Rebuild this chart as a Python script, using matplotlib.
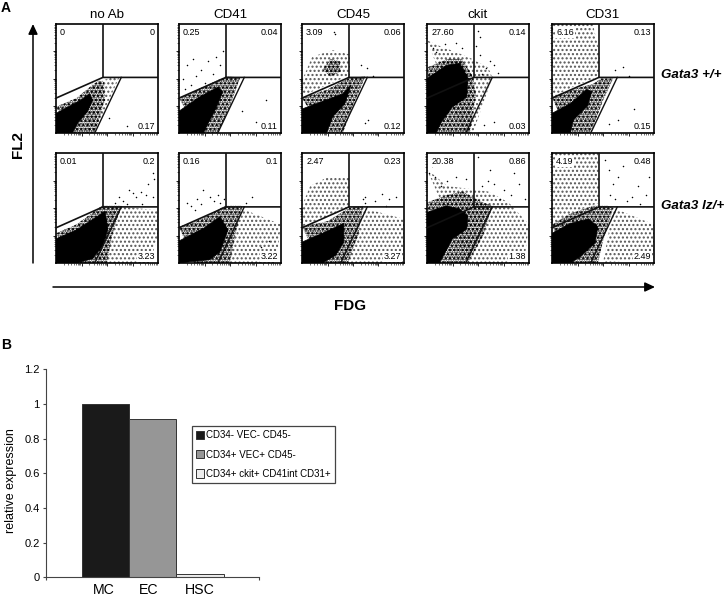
"""
Gata3 flow panels (A) and relative expression bars (B).
Dot clouds are outlined by density regions read off the picture, plus hand-read dots.
"""
import matplotlib
matplotlib.use("Agg")
import matplotlib.pyplot as plt
import numpy as np
from matplotlib.patches import Polygon

plt.rcParams["font.family"] = ["Liberation Sans", "DejaVu Sans"]

W, H = 726, 598

COLUMNS = ["no Ab", "CD41", "CD45", "ckit", "CD31"]
ROWS = ["Gata3 +/+", "Gata3 lz/+"]

# gate percentages: upper left, upper right, lower right
GATES = [
    [("0", "0", "0.17"), ("0.25", "0.04", "0.11"), ("3.09", "0.06", "0.12"),
     ("27.60", "0.14", "0.03"), ("6.16", "0.13", "0.15")],
    [("0.01", "0.2", "3.23"), ("0.16", "0.1", "3.22"), ("2.47", "0.23", "3.27"),
     ("20.38", "0.86", "1.38"), ("4.19", "0.48", "2.49")],
]

# dot cloud outlines, % of panel width / height
CORE = [
    [[(0, 18), (12, 24), (24, 30), (33, 36), (36, 30), (31, 20), (22, 10), (16, 0), (0, 0)],
     [(0, 20), (20, 33), (38, 42), (43, 38), (36, 22), (28, 8), (24, 0), (0, 0)],
     [(0, 22), (20, 29), (40, 36), (48, 44), (42, 27), (30, 15), (24, 0), (0, 0)],
     [(0, 50), (19, 62), (32, 64), (40, 51), (39, 33), (25, 24), (14, 10), (9, 0), (0, 0)],
     [(0, 18), (18, 27), (34, 40), (39, 38), (35, 25), (21, 12), (18, 0), (0, 0)]],
    [[(0, 22), (20, 30), (40, 42), (48, 47), (51, 31), (46, 16), (36, 4), (20, 0), (0, 0)],
     [(0, 20), (25, 32), (40, 42), (48, 30), (40, 10), (30, 3), (0, 0)],
     [(0, 19), (20, 27), (41, 36), (41, 19), (33, 7), (20, 0), (0, 0)],
     [(0, 46), (19, 52), (32, 49), (40, 43), (39, 31), (25, 22), (12, 0), (0, 0)],
     [(0, 27), (18, 36), (36, 40), (45, 33), (42, 18), (28, 6), (18, 0), (0, 0)]],
]
DENSE = [
    [[[(0, 24), (20, 32), (33, 42), (42, 48), (47, 47), (48, 30), (38, 0), (14, 0)]],
     [[(0, 32), (30, 45), (46, 52), (60, 51), (50, 25), (38, 0), (20, 0)]],
     [[(0, 32), (25, 40), (45, 50), (62, 52), (50, 25), (40, 0), (22, 0)],
      [(20, 58), (28, 68), (37, 66), (38, 56), (28, 52)]],
     [[(0, 60), (20, 68), (34, 68), (45, 52), (48, 35), (42, 0), (8, 0)]],
     [[(0, 33), (20, 40), (40, 45), (48, 50), (60, 50), (50, 30), (38, 0), (15, 0)]]],
    [[[(0, 27), (20, 35), (45, 52), (64, 52), (55, 25), (50, 0), (15, 0)]],
     [[(0, 33), (22, 40), (45, 52), (62, 52), (55, 25), (50, 0), (15, 0)]],
     [[(0, 33), (25, 38), (46, 50), (60, 52), (55, 25), (45, 0), (18, 0)]],
     [[(0, 55), (20, 62), (35, 65), (55, 55), (64, 52), (55, 25), (40, 0), (10, 0)]],
     [[(0, 35), (18, 45), (40, 52), (55, 52), (60, 50), (50, 20), (45, 0), (12, 0)]]],
]
SPARSE = [
    [[[(35, 45), (55, 51), (62, 51), (48, 22), (38, 0), (30, 0)]],
     [],
     [[(0, 48), (10, 70), (30, 76), (47, 72), (47, 53), (20, 42), (0, 34)]],
     [[(0, 85), (12, 80), (40, 70), (60, 60), (64, 51), (45, 0), (35, 0)]],
     [[(0, 100), (40, 100), (47, 72), (46, 52), (20, 42), (0, 33)]]],
    [[[(55, 52), (100, 48), (100, 25), (92, 0), (38, 0)]],
     [[(60, 50), (100, 35), (95, 0), (50, 0)]],
     [[(60, 50), (100, 40), (100, 0), (45, 0)],
      [(0, 52), (8, 70), (25, 78), (46, 78), (46, 50), (0, 33)]],
     [[(0, 85), (20, 70), (60, 65), (80, 55), (100, 35), (95, 0), (40, 0)]],
     [[(0, 100), (45, 100), (47, 55), (20, 46), (0, 35)],
      [(60, 50), (100, 35), (100, 5), (50, 0)]]],
]

# single dots read by eye, % of panel
DOTS = [
    [[(70, 6), (52, 14)],
     [(4, 50), (8, 62), (12, 44), (17, 52), (14, 68), (22, 58), (25, 46), (28, 66), (33, 54),
      (36, 70), (40, 62), (43, 75), (30, 38), (6, 40), (20, 40), (62, 20), (75, 10), (85, 30)],
     [(31, 93), (32, 91), (58, 62), (64, 60), (70, 52), (65, 12), (62, 9), (82, 8)],
     [(50, 94), (52, 88), (48, 80), (52, 72), (62, 66), (66, 62), (70, 55), (58, 60), (54, 54),
      (6, 78), (9, 74), (18, 82), (20, 90), (28, 83), (34, 78), (66, 10), (56, 7)],
     [(70, 61), (62, 58), (75, 52), (80, 22), (65, 12), (56, 8), (90, 9)]],
    [[(95, 82), (96, 76), (90, 72), (83, 65), (72, 66), (75, 64), (62, 60), (66, 56), (58, 55),
      (88, 62), (95, 60), (78, 60), (70, 54), (84, 54)],
     [(8, 55), (12, 52), (18, 58), (22, 54), (30, 60), (34, 56), (38, 62), (16, 48),
      (24, 66), (40, 55), (44, 58), (66, 55), (72, 60), (80, 15), (88, 20)],
     [(62, 55), (62, 60), (60, 58), (78, 63), (85, 58), (92, 60), (82, 52), (72, 56)],
     [(2, 82), (5, 88), (8, 78), (14, 70), (20, 75), (28, 78), (38, 76), (50, 96), (62, 85),
      (66, 72), (75, 66), (82, 62), (90, 72), (96, 58), (72, 58), (54, 70), (60, 75), (85, 82)],
     [(52, 94), (56, 85), (60, 72), (65, 78), (70, 88), (78, 60), (84, 70), (92, 62), (88, 90),
      (95, 78), (74, 56), (62, 58), (86, 54), (57, 62)]],
]

# panel B
CATEGORIES = ["MC", "EC", "HSC"]
EXPRESSION = [1.0, 0.913, 0.017]
SUBSETS = ["CD34- VEC- CD45-", "CD34+ VEC+ CD45-", "CD34+ ckit+ CD41int CD31+"]
BAR_COLORS = ["#1a1a1a", "#969696", "#ececec"]
Y_TICKS = [0, 0.2, 0.4, 0.6, 0.8, 1.0, 1.2]
Y_LABELS = ["0", "0.2", "0.4", "0.6", "0.8", "1", "1.2"]

PANEL_X = [56, 179, 302, 427, 552]
PANEL_Y = [24, 153]
PANEL_W = 102
PANEL_H = [109, 110]


def px_axes(fig, x0, y0, w, h):
    return fig.add_axes([x0 / W, 1 - (y0 + h) / H, w / W, h / H])


def stipple(ax, poly, counts, color, z):
    # overlaid dot hatches of unequal pitch read as an uneven dot field
    for n in counts:
        ax.add_patch(Polygon(poly, facecolor="none", edgecolor=color, hatch="." * n,
                             linewidth=0, zorder=z))


fig = plt.figure(figsize=(W / 100, H / 100), dpi=100, facecolor="white")

decades = np.arange(0, 100, 25)
log_minor = np.log10(np.arange(2, 10)) * 25
minor = np.concatenate([d + log_minor for d in decades])

for r, y0 in enumerate(PANEL_Y):
    for c, x0 in enumerate(PANEL_X):
        ax = px_axes(fig, x0, y0, PANEL_W, PANEL_H[r])
        ax.set_xlim(0, 100)
        ax.set_ylim(0, 100)
        for poly in SPARSE[r][c]:
            stipple(ax, poly, [4], "#555555", 1)
        for poly in DENSE[r][c]:
            stipple(ax, poly, [4, 7], "black", 2)
        ax.add_patch(Polygon(CORE[r][c], facecolor="black", edgecolor="black",
                             linewidth=0.5, zorder=3))
        dx, dy = zip(*DOTS[r][c])
        ax.scatter(dx, dy, s=1.2, color="black", linewidths=0, zorder=3)

        ax.plot([46, 46], [100, 51], color="#111", lw=1.2, zorder=4)
        ax.plot([0, 46, 100], [32, 51, 51], color="#111", lw=1.2, zorder=4)
        ax.plot([64, 38], [51, 0], color="#111", lw=1.0, zorder=4)

        box = dict(facecolor="white", edgecolor="none", pad=0.6)
        ul, ur, lr = GATES[r][c]
        ax.text(4, 92, ul, fontsize=6.5, ha="left", va="center", zorder=5, bbox=box)
        ax.text(97, 92, ur, fontsize=6.5, ha="right", va="center", zorder=5, bbox=box)
        ax.text(97, 6, lr, fontsize=6.5, ha="right", va="center", zorder=5, bbox=box)

        ax.set_xticks(decades[1:])
        ax.set_yticks(decades[1:])
        ax.set_xticks(minor, minor=True)
        ax.set_yticks(minor, minor=True)
        ax.tick_params(which="major", length=2.2, width=0.6, labelbottom=False, labelleft=False)
        ax.tick_params(which="minor", length=1.2, width=0.4)
        for spine in ax.spines.values():
            spine.set_linewidth(1.2)

        if r == 0:
            ax.set_title(COLUMNS[c], fontsize=9.6, pad=4.5)

# annotation layer in pixel coordinates
over = fig.add_axes([0, 0, 1, 1], facecolor="none")
over.set_xlim(0, W)
over.set_ylim(H, 0)
over.axis("off")
arrow = dict(arrowstyle="-|>,head_width=0.28,head_length=0.6", color="black", lw=1.1,
             shrinkA=0, shrinkB=0)
over.annotate("", xy=(33, 24), xytext=(33, 263), arrowprops=arrow)
over.annotate("", xy=(655, 287), xytext=(53, 287), arrowprops=arrow)
over.text(18, 145, "FL2", fontsize=11, fontweight="bold", rotation=90, ha="center", va="center")
over.text(350, 306, "FDG", fontsize=11, fontweight="bold", ha="center", va="center")
over.text(6, 8, "A", fontsize=10, fontweight="bold", ha="center", va="center")
over.text(6, 345, "B", fontsize=10, fontweight="bold", ha="center", va="center")
for name, y in zip(ROWS, [75, 206]):
    over.text(661, y, name, fontsize=9.6, fontweight="bold", fontstyle="italic",
              ha="left", va="center")

# panel B
bx = px_axes(fig, 46, 369.3, 213, 208)
for i, cat in enumerate(CATEGORIES):
    bx.bar(i, EXPRESSION[i], width=1.0, color=BAR_COLORS[i], edgecolor="#333333",
           linewidth=0.7, label=SUBSETS[i])
bx.set_xlim(-1.25, 3.25)
bx.set_ylim(0, 1.2)
bx.set_yticks(Y_TICKS)
bx.set_yticklabels(Y_LABELS, fontsize=8)
bx.set_xticks([-0.02, 0.93, 2.0])
bx.set_xticklabels(CATEGORIES, fontsize=10.2)
bx.set_xticks([-1.25, 3.25], minor=True)
bx.tick_params(axis="x", which="major", length=0, pad=4)
bx.tick_params(axis="x", which="minor", length=2.5, width=0.8, color="#444444")
bx.tick_params(axis="y", length=2.5, width=0.8, color="#444444", pad=2)
bx.set_ylabel("relative expression", fontsize=9, labelpad=5, y=0.466)
bx.spines["top"].set_visible(False)
bx.spines["right"].set_visible(False)
bx.spines["left"].set_color("#444444")
bx.spines["bottom"].set_color("#444444")

leg = bx.legend(loc="upper left", bbox_to_anchor=(192 / W, 1 - 426 / H),
                bbox_transform=fig.transFigure, fontsize=7.0, frameon=True, fancybox=False,
                edgecolor="#444444", framealpha=1, borderaxespad=0, handlelength=0.75,
                handleheight=0.9, handletextpad=0.25, labelspacing=0.95, borderpad=0.45)
leg.get_frame().set_linewidth(0.9)

fig.savefig("out.png", dpi=100)
